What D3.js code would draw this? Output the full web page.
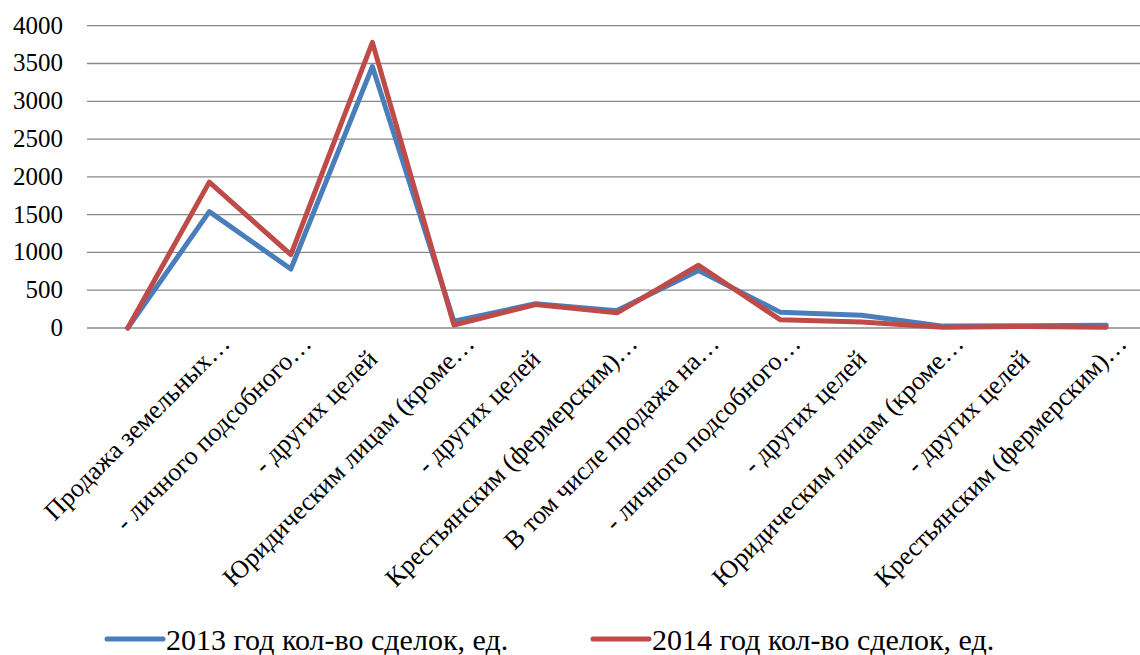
<!DOCTYPE html>
<html>
<head>
<meta charset="utf-8">
<script src="https://cdn.jsdelivr.net/npm/d3@7"></script>
</head>
<body style="margin:0">
<script>
// categories (first one has no label in the source chart)
const categories = [
  "",
  "Продажа земельных…",
  "- личного подсобного…",
  "- других целей",
  "Юридическим лицам (кроме…",
  "- других целей",
  "Крестьянским (фермерским)…",
  "В том числе продажа на…",
  "- личного подсобного…",
  "- других целей",
  "Юридическим лицам (кроме…",
  "- других целей",
  "Крестьянским (фермерским)…"
];
const deals2013 = [0, 1540, 780, 3460, 90, 320, 230, 760, 210, 170, 25, 30, 35];
const deals2014 = [0, 1930, 970, 3780, 40, 310, 200, 830, 110, 80, 10, 20, 10];
const seriesNames = ["2013 год кол-во сделок, ед.", "2014 год кол-во сделок, ед."];
const yTicks = [0, 500, 1000, 1500, 2000, 2500, 3000, 3500, 4000];

const W = 1140, H = 655;
const colors = ["#4A7EBB", "#BE4B48"];
const FONT = "Liberation Serif, Tinos, Times New Roman, serif";

const svg = d3.select("body")
  .append("svg")
    .attr("width", W)
    .attr("height", H)
    .attr("font-family", FONT);

const x = d3.scaleBand()
  .domain(d3.range(categories.length))
  .range([87, 1147])
  .padding(0);
const cx = i => x(i) + x.bandwidth() / 2;

const y = d3.scaleLinear()
  .domain([0, 4000])
  .range([328, 25.7]);

// gridlines
svg.append("g")
  .selectAll("line")
  .data(yTicks)
  .enter()
  .append("line")
    .attr("x1", 87)
    .attr("x2", 1147)
    .attr("y1", d => y(d))
    .attr("y2", d => y(d))
    .attr("stroke", "#898989")
    .attr("stroke-width", 1.3);

// y labels
svg.append("g")
  .selectAll("text")
  .data(yTicks)
  .enter()
  .append("text")
    .attr("x", 63)
    .attr("y", d => y(d) + 8)
    .attr("text-anchor", "end")
    .attr("font-family", FONT)
    .attr("font-size", 25)
    .text(d => d);

// x labels, rotated -45
svg.append("g")
  .selectAll("text")
  .data(categories)
  .enter()
  .append("text")
    .attr("transform", (d, i) => {
      const shift = d.endsWith("…") ? 0 : 22;
      const ex = cx(i) + 22 - shift * Math.SQRT1_2;
      const ey = 345 + shift * Math.SQRT1_2;
      return "translate(" + ex + "," + ey + ") rotate(-45)";
    })
    .attr("text-anchor", "end")
    .attr("font-family", FONT)
    .attr("font-size", 26)
    .text(d => d);

// lines
const line = d3.line()
  .x((d, i) => cx(i))
  .y(d => y(d));

[deals2013, deals2014].forEach((s, k) => {
  svg.append("path")
    .datum(s)
    .attr("d", line)
    .attr("fill", "none")
    .attr("stroke", colors[k])
    .attr("stroke-width", 5)
    .attr("stroke-linejoin", "round")
    .attr("stroke-linecap", "round");
});

// legend
const legendX = [107, 593];
const legend = svg.append("g");
seriesNames.forEach((name, k) => {
  legend.append("line")
    .attr("x1", legendX[k])
    .attr("x2", legendX[k] + 56)
    .attr("y1", 639)
    .attr("y2", 639)
    .attr("stroke", colors[k])
    .attr("stroke-width", 5)
    .attr("stroke-linecap", "round");
  legend.append("text")
    .attr("x", legendX[k] + 59)
    .attr("y", 650)
    .attr("font-family", FONT)
    .attr("font-size", 30)
    .text(name);
});
</script>
</body>
</html>
